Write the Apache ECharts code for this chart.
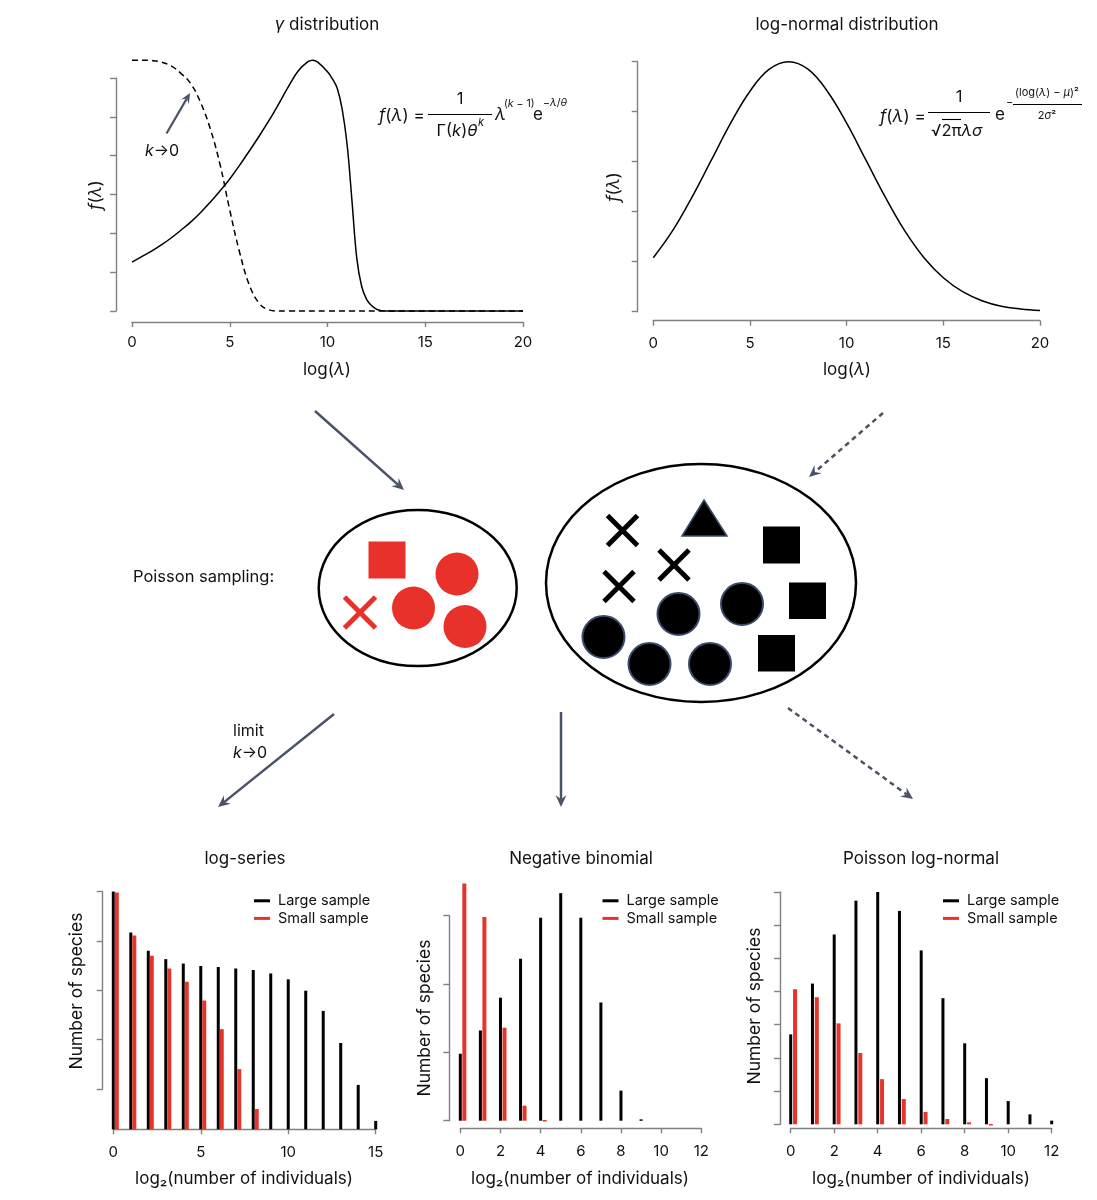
<!DOCTYPE html>
<html><head><meta charset="utf-8">
<script src="https://cdn.jsdelivr.net/npm/echarts@6/dist/echarts.min.js"></script>
<style>html,body{margin:0;padding:0;background:#fff}#c{width:1097px;height:1200px}</style>
</head><body><div id="c"></div>
<script>
// ---------- data ----------
const gammaX = [0,0.5,1,1.5,2,2.5,3,3.5,4,4.5,5,5.5,6,6.5,7,7.5,8,8.5,9,9.25,9.5,10,10.25,10.5,10.75,11,11.25,11.5,11.75,12,12.25,12.5,12.75,13,14,16,18,20];
const gammaY = [1.26,1.40,1.54,1.70,1.88,2.08,2.29,2.53,2.80,3.09,3.40,3.75,4.12,4.50,4.90,5.33,5.78,6.18,6.42,6.46,6.41,6.16,5.98,5.73,5.2,4.3,2.85,1.35,0.63,0.3,0.14,0.05,0.01,0,0,0,0,0];
const gammaLimX = [0,0.5,1,1.5,2,2.5,3,3.5,4,4.5,5,5.5,6,6.5,7,7.5,8,10,14,20];
const gammaLimY = [6.46,6.46,6.45,6.41,6.31,6.12,5.86,5.38,4.7,3.78,2.6,1.52,0.67,0.2,0.03,0,0,0,0,0];
const lognormX = [0,1,2,3,4,5,6,7,8,9,10,11,12,13,14,15,16,17,18,19,20];
const lognormY = [1.08,1.62,2.29,3.03,3.77,4.41,4.85,5.0,4.85,4.41,3.77,3.03,2.29,1.62,1.08,0.68,0.40,0.22,0.11,0.056,0.025];

const lsCats  = [0,1,2,3,4,5,6,7,8,9,10,11,12,13,14,15];
const lsLarge = [4.82,3.99,3.62,3.45,3.36,3.31,3.29,3.26,3.23,3.16,3.04,2.81,2.40,1.75,0.90,0.17];
const lsSmall = [4.80,3.93,3.52,3.26,2.99,2.61,2.03,1.22,0.41,0,0,0,0,0,0,0];

const nbCats  = [0,1,2,3,4,5,6,7,8,9,10,11,12];
const nbLarge = [0.98,1.32,1.80,2.37,2.97,3.33,2.97,1.73,0.44,0.02,0,0,0];
const nbSmall = [3.47,2.98,1.36,0.22,0.01,0,0,0,0,0,0,0,0];

const plnCats  = [0,1,2,3,4,5,6,7,8,9,10,11,12];
const plnLarge = [2.71,4.24,5.72,6.74,7.0,6.43,5.24,3.80,2.44,1.39,0.70,0.30,0.11];
const plnSmall = [4.07,3.83,3.04,2.15,1.36,0.76,0.37,0.16,0.06,0.01,0,0,0];

const legendNames = ['Large sample','Small sample'];

// ---------- style ----------
const FONT = 'Inter, "Noto Sans", sans-serif';
const GRAY = '#808080';
const RED = '#e5352b';
const AR = '#4a5466';
const TXT = '#111';

const chart = echarts.init(document.getElementById('c'), null, {renderer:'canvas'});

function xAx(grid, max, interval, offset, margin){
  return {type:'value', gridIndex:grid, min:0, max:max, interval:interval, offset:offset,
    axisLine:{show:true, onZero:false, lineStyle:{color:GRAY, width:1.4}},
    axisTick:{show:true, length:5, lineStyle:{color:GRAY, width:1.4}},
    axisLabel:{color:TXT, fontSize:15, fontFamily:FONT, margin:margin},
    splitLine:{show:false}};
}
function yAx(grid, max, interval, offset){
  return {type:'value', gridIndex:grid, min:0, max:max, interval:interval, offset:offset,
    axisLine:{show:true, onZero:false, lineStyle:{color:GRAY, width:1.4}},
    axisTick:{show:true, length:6, lineStyle:{color:GRAY, width:1.4}},
    axisLabel:{show:false}, splitLine:{show:false}};
}
function hidden(grid, max){
  return {type:'value', gridIndex:grid, min:0, max:max, show:false, splitLine:{show:false}};
}
function pairs(xs, ys){ return xs.map((x,i)=>[x, ys[i]]); }

function barSeries(name, cats, vals, xi, yi, color, shift, width){
  return {type:'custom', name:name, xAxisIndex:xi, yAxisIndex:yi, clip:false,
    itemStyle:{color:color},
    data: pairs(cats, vals),
    encode:{x:0, y:1},
    renderItem:function(params, api){
      const x = api.value(0) + shift, v = api.value(1);
      if (v <= 0) return null;
      const top = api.coord([x, v]), bot = api.coord([x, 0]);
      return {type:'rect', shape:{x: top[0]-width/2, y: top[1], width: width, height: Math.max(bot[1]-top[1], 1.5)},
        style:{fill:color}};
    }};
}
function legend(left){
  return {show:true, data:legendNames, orient:'vertical', left:left, top:892, padding:0,
    icon:'rect', itemWidth:16, itemHeight:3, itemGap:0, selectedMode:false,
    textStyle:{fontSize:14.5, fontFamily:FONT, color:TXT, lineHeight:17.6, padding:[0,0,0,3]}};
}

// ---------- graphic helpers ----------
function rich(size){
  return {i:{fontStyle:'italic', fontSize:size, fontFamily:FONT, fill:TXT}, n:{fontSize:size, fontFamily:FONT, fill:TXT}};
}
function rtxt(x, y, text, size, align, rot){
  return {type:'text', x:x, y:y, rotation:rot||0, silent:true,
    style:{text:text, rich:rich(size), fill:TXT, fontSize:size, fontFamily:FONT, align:align||'center', verticalAlign:'middle'}};
}
function hline(x1, x2, y, w){
  return {type:'line', silent:true, shape:{x1:x1, y1:y, x2:x2, y2:y}, style:{stroke:'#000', lineWidth:w||1.2}};
}
function arrow(x1, y1, x2, y2, dashed, lw, L, W){
  lw = lw||2.5; L = L||12; W = W||5.5;
  const a = Math.atan2(y2-y1, x2-x1), c = Math.cos(a), s = Math.sin(a);
  const bx = x2 - L*c, by = y2 - L*s;
  const nx = x2 - L*0.65*c, ny = y2 - L*0.65*s;
  const px = -s*W, py = c*W;
  return [
    {type:'line', silent:true, shape:{x1:x1, y1:y1, x2:nx, y2:ny},
      style:{stroke:AR, lineWidth:lw, lineDash: dashed ? [5,4] : null}},
    {type:'polygon', silent:true, shape:{points:[[x2,y2],[bx+px,by+py],[nx,ny],[bx-px,by-py]]}, style:{fill:AR}}
  ];
}
function cross(cx, cy, h, color, w){
  return [
    {type:'line', silent:true, shape:{x1:cx-h, y1:cy-h, x2:cx+h, y2:cy+h}, style:{stroke:color, lineWidth:w}},
    {type:'line', silent:true, shape:{x1:cx-h, y1:cy+h, x2:cx+h, y2:cy-h}, style:{stroke:color, lineWidth:w}}
  ];
}
function sq(x1, y1, x2, y2, color){
  return {type:'rect', silent:true, shape:{x:x1, y:y1, width:x2-x1, height:y2-y1}, style:{fill:color}};
}
function dot(cx, cy, r, color, stroke){
  return {type:'circle', silent:true, shape:{cx:cx, cy:cy, r:r}, style:{fill:color, stroke:stroke||null, lineWidth:stroke?2:0}};
}

const HALF = Math.PI/2;
let g = [];
// titles
g.push(rtxt(327, 25, '{i|γ} distribution', 17));
g.push(rtxt(847, 25, 'log-normal distribution', 17));
g.push(rtxt(245, 859, 'log-series', 17));
g.push(rtxt(581, 859, 'Negative binomial', 17));
g.push(rtxt(921, 859, 'Poisson log-normal', 17));
// axis names top
g.push(rtxt(96, 195, '{i|f}({i|λ})', 17, 'center', HALF));
g.push(rtxt(614, 187, '{i|f}({i|λ})', 17, 'center', HALF));
g.push(rtxt(327, 370, 'log({i|λ})', 17));
g.push(rtxt(847, 370, 'log({i|λ})', 17));
// axis names bottom
g.push(rtxt(77, 991, 'Number of species', 17.5, 'center', HALF));
g.push(rtxt(425, 1018, 'Number of species', 17.5, 'center', HALF));
g.push(rtxt(755, 1006, 'Number of species', 17.5, 'center', HALF));
g.push(rtxt(244, 1179, 'log₂(number of individuals)', 17));
g.push(rtxt(580, 1179, 'log₂(number of individuals)', 17));
g.push(rtxt(921, 1179, 'log₂(number of individuals)', 17));

// gamma formula
g.push(rtxt(379, 116, '{i|f}({i|λ}) =', 17, 'left'));
g.push(hline(428, 492, 114.5));
g.push(rtxt(460, 99, '1', 16.5));
g.push(rtxt(457, 131, 'Γ({i|k}){i|θ}', 16.5));
g.push(rtxt(478, 123, '{i|k}', 11, 'left'));
g.push(rtxt(495, 115, '{i|λ}', 17, 'left'));
g.push(rtxt(504, 104, '({i|k} − 1)', 10.5, 'left'));
g.push(rtxt(533, 115, 'e', 17, 'left'));
g.push(rtxt(543, 103, '−{i|λ}/{i|θ}', 10.5, 'left'));

// lognormal formula
g.push(rtxt(880, 117, '{i|f}({i|λ}) =', 17, 'left'));
g.push(hline(928, 990, 112.5));
g.push(rtxt(959, 97, '1', 16.5));
g.push(rtxt(931, 131, '√2π{i|λσ}', 16.5, 'left'));
g.push(hline(942, 961, 119.5, 1.1));
g.push(rtxt(995, 115, 'e', 17, 'left'));
g.push(rtxt(1006, 103, '−', 11, 'left'));
g.push(hline(1013, 1082, 104.5));
g.push(rtxt(1047, 93, '(log({i|λ}) − {i|μ})²', 11, 'center'));
g.push(rtxt(1047, 116, '2{i|σ}²', 11, 'center'));

// k->0 annotation
g = g.concat(arrow(166.5, 133.5, 190, 93, false, 2.2, 10, 4.5));
g.push(rtxt(145, 151, '{i|k}→0', 16, 'left'));

// middle arrows
g = g.concat(arrow(315, 411, 404, 490, false));
g = g.concat(arrow(883, 413, 809, 477, true));
g = g.concat(arrow(334, 714, 218, 807, false));
g = g.concat(arrow(561, 712, 561, 807, false));
g = g.concat(arrow(788, 708, 913, 799, true));
g.push(rtxt(233, 731, 'limit', 16, 'left'));
g.push(rtxt(233, 753, '{i|k}→0', 16, 'left'));
g.push(rtxt(133, 577, 'Poisson sampling:', 16.5, 'left'));

// ellipses
g.push({type:'ellipse', silent:true, shape:{cx:417.7, cy:588, rx:99, ry:78}, style:{fill:'none', stroke:'#000', lineWidth:2.5}});
g.push({type:'ellipse', silent:true, shape:{cx:701, cy:583, rx:155, ry:119}, style:{fill:'none', stroke:'#000', lineWidth:2.5}});
// red community
g.push(sq(368.5, 541.5, 405.5, 578.5, '#e8312a'));
g.push(dot(457, 574, 21.5, '#e8312a'));
g.push(dot(413.5, 608, 21.5, '#e8312a'));
g.push(dot(465, 626.5, 21.5, '#e8312a'));
g = g.concat(cross(360, 612.5, 15.5, '#e8312a', 5));
// black community
g = g.concat(cross(622.5, 530.5, 15, '#000', 5));
g = g.concat(cross(674, 565, 15, '#000', 5));
g = g.concat(cross(619, 586.5, 15, '#000', 5));
g.push({type:'polygon', silent:true, shape:{points:[[704,500],[727,536],[682,536]]}, style:{fill:'#000', stroke:'#3b4a6b', lineWidth:1.5}});
g.push(sq(763, 526.5, 800, 563.5, '#000'));
g.push(sq(789, 582.5, 826, 619, '#000'));
g.push(sq(758, 635, 795, 671.5, '#000'));
g.push(dot(742, 604, 21, '#000', '#3b4a6b'));
g.push(dot(678.5, 614, 21, '#000', '#3b4a6b'));
g.push(dot(603.5, 637, 21, '#000', '#3b4a6b'));
g.push(dot(649.5, 664, 21, '#000', '#3b4a6b'));
g.push(dot(710, 664, 21, '#000', '#3b4a6b'));

const option = {
  animation:false,
  backgroundColor:'#fff',
  grid:[
    {left:132, top:78, width:391, height:233},
    {left:653.3, top:61.7, width:386.7, height:250},
    {left:113.3, top:891.7, width:262.4, height:237.6},
    {left:102.7, top:891.7, width:10, height:197.3},
    {left:460.3, top:915.7, width:241, height:205},
    {left:790.7, top:892, width:261, height:232.3}
  ],
  xAxis:[
    xAx(0, 20, 5, 11, 13),
    xAx(1, 20, 5, 9, 15),
    xAx(2, 15, 5, 0, 16),
    hidden(3, 1),
    xAx(4, 12, 2, 7.6, 16),
    xAx(5, 12, 2, 4, 16)
  ],
  yAxis:[
    yAx(0, 6, 1, 16),
    yAx(1, 5, 1, 15.6),
    hidden(2, 4.817),
    yAx(3, 4, 1, 0),
    yAx(4, 3, 1, 11),
    yAx(5, 7, 1, 10.7)
  ],
  legend:[legend(254), legend(602.5), legend(943)],
  series:[
    {type:'line', name:'gamma', xAxisIndex:0, yAxisIndex:0, data:pairs(gammaX, gammaY), smooth:0.4,
      showSymbol:false, clip:false, lineStyle:{color:'#000', width:1.5}, silent:true},
    {type:'line', name:'gamma k->0', xAxisIndex:0, yAxisIndex:0, data:pairs(gammaLimX, gammaLimY), smooth:0.4,
      showSymbol:false, clip:false, lineStyle:{color:'#000', width:1.5, type:[6,4]}, silent:true},
    {type:'line', name:'lognormal', xAxisIndex:1, yAxisIndex:1, data:pairs(lognormX, lognormY), smooth:0.4,
      showSymbol:false, clip:false, lineStyle:{color:'#000', width:1.5}, silent:true},
    barSeries('Large sample', lsCats, lsLarge, 2, 2, '#000', 0, 3),
    barSeries('Small sample', lsCats, lsSmall, 2, 2, RED, 0.2, 4),
    barSeries('Large sample', nbCats, nbLarge, 4, 4, '#000', 0, 3),
    barSeries('Small sample', nbCats, nbSmall, 4, 4, RED, 0.2, 4),
    barSeries('Large sample', plnCats, plnLarge, 5, 5, '#000', 0, 3),
    barSeries('Small sample', plnCats, plnSmall, 5, 5, RED, 0.2, 4)
  ],
  graphic:{elements:g}
};
chart.setOption(option);
</script></body></html>
